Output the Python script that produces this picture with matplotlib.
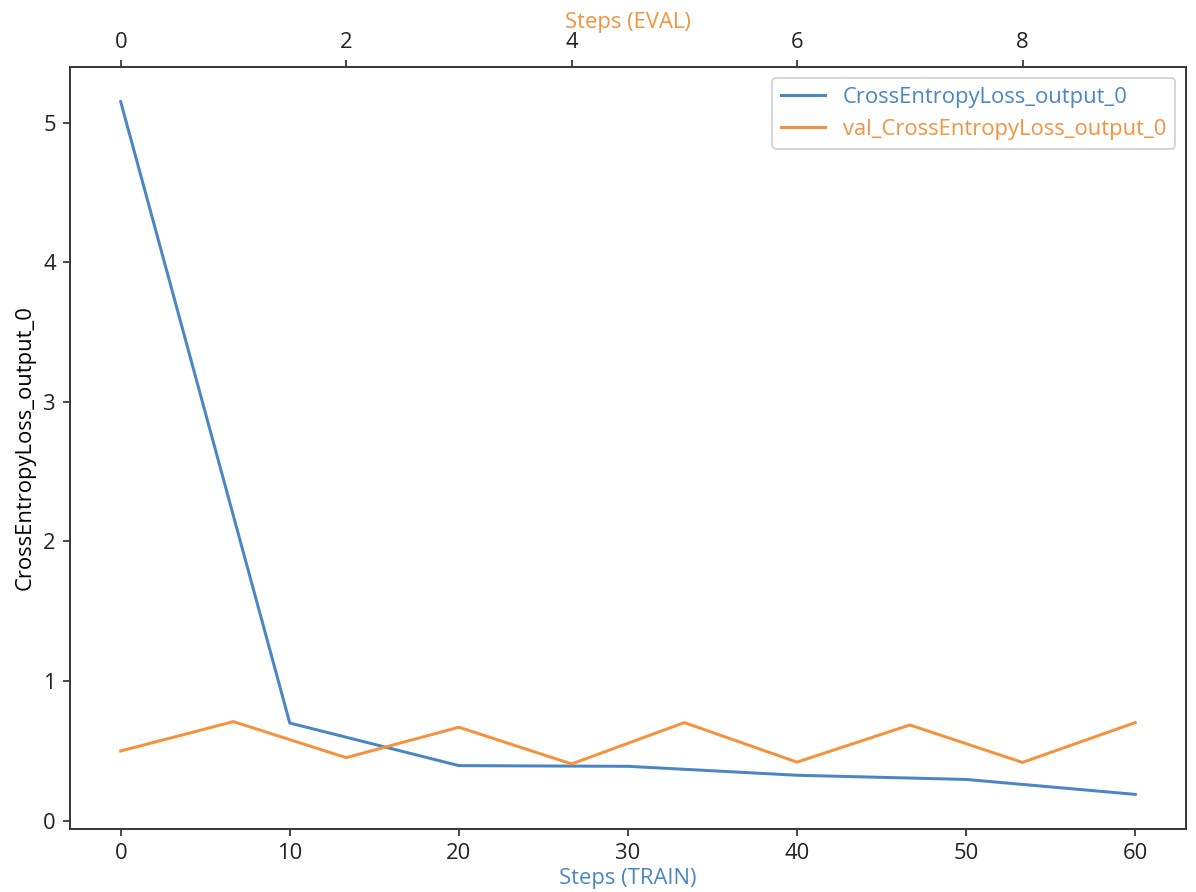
import matplotlib
matplotlib.use("Agg")
import matplotlib.pyplot as plt

plt.rcParams['font.family'] = ['Open Sans', 'DejaVu Sans']
plt.rcParams['font.size'] = 11

train_steps = [0, 10, 20, 30, 40, 50, 60]
train_loss = [5.15, 0.70, 0.395, 0.39, 0.326, 0.296, 0.189]
eval_steps = [0, 1, 2, 3, 4, 5, 6, 7, 8, 9]
eval_loss = [0.50, 0.71, 0.452, 0.67, 0.407, 0.703, 0.42, 0.686, 0.418, 0.703]

blue = '#4a86c3'
orange = '#f5923e'

# screenshot was taken at retina scale, so draw at 144 dpi
fig = plt.figure(figsize=(1196 / 144, 892 / 144), dpi=144)
ax = fig.add_axes([0.0585, 0.0706, 0.9331, 0.8543])
l1, = ax.plot(train_steps, train_loss, color=blue, lw=1.5, label='CrossEntropyLoss_output_0')
ax.set_xlabel('Steps (TRAIN)', color=blue, labelpad=2)
ax.set_ylabel('CrossEntropyLoss_output_0')

ax2 = ax.twiny()
l2, = ax2.plot(eval_steps, eval_loss, color=orange, lw=1.5, label='val_CrossEntropyLoss_output_0')
ax2.set_xlabel('Steps (EVAL)', color=orange, labelpad=2)

for a in (ax, ax2):
    a.tick_params(colors='#222222')
    for s in a.spines.values():
        s.set_color('#333333')

leg = ax2.legend(handles=[l1, l2], loc='upper right')
for t, c in zip(leg.get_texts(), [blue, orange]):
    t.set_color(c)

fig.savefig('out.png', dpi=144)
